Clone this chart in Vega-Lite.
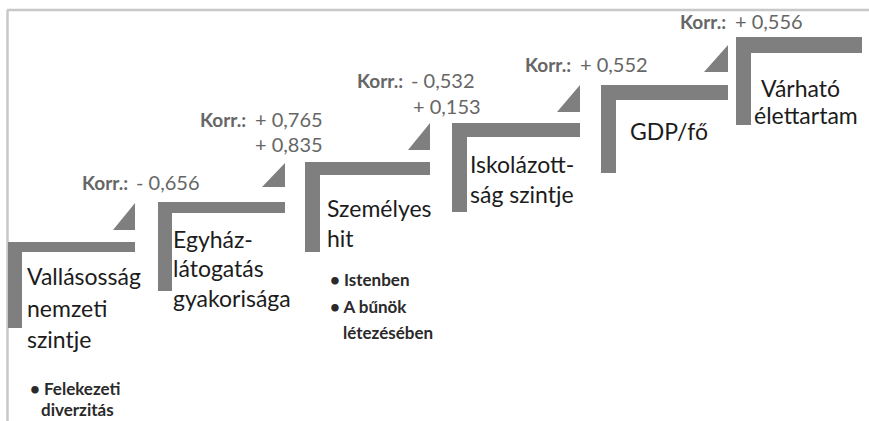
{
  "$schema": "https://vega.github.io/schema/vega-lite/v6.json",
  "width": 869,
  "height": 421,
  "padding": 0,
  "autosize": "none",
  "background": "#ffffff",
  "config": {"view": {"stroke": null}},
  "datasets": {
    "frame": [
      {"x": 7, "x2": 869, "y": 10, "y2": 10},
      {"x": 7.5, "x2": 7.5, "y": 10, "y2": 421}
    ],
    "bars": [
      {"step": 1, "x": 8, "x2": 135, "y": 242, "y2": 252},
      {"step": 1, "x": 8, "x2": 22, "y": 242, "y2": 328},
      {"step": 2, "x": 158, "x2": 285, "y": 202, "y2": 213},
      {"step": 2, "x": 158, "x2": 172, "y": 202, "y2": 291},
      {"step": 3, "x": 305, "x2": 430, "y": 162, "y2": 175},
      {"step": 3, "x": 305, "x2": 320, "y": 162, "y2": 252},
      {"step": 4, "x": 452, "x2": 580, "y": 123, "y2": 137},
      {"step": 4, "x": 452, "x2": 467, "y": 123, "y2": 212},
      {"step": 5, "x": 601, "x2": 728, "y": 85, "y2": 100},
      {"step": 5, "x": 601, "x2": 616, "y": 85, "y2": 173},
      {"step": 6, "x": 736, "x2": 862, "y": 37, "y2": 53},
      {"step": 6, "x": 736, "x2": 751, "y": 37, "y2": 125}
    ],
    "tris": [
      {"tri": 1, "x": 113, "top": 230, "bottom": 230},
      {"tri": 1, "x": 135, "top": 203, "bottom": 230},
      {"tri": 2, "x": 262, "top": 187, "bottom": 187},
      {"tri": 2, "x": 285, "top": 163, "bottom": 187},
      {"tri": 3, "x": 408, "top": 150, "bottom": 150},
      {"tri": 3, "x": 430, "top": 123, "bottom": 150},
      {"tri": 4, "x": 557, "top": 112, "bottom": 112},
      {"tri": 4, "x": 580, "top": 85, "bottom": 112},
      {"tri": 5, "x": 704, "top": 72, "bottom": 72},
      {"tri": 5, "x": 728, "top": 45, "bottom": 72}
    ],
    "texts": [
      {"role": "label", "x": 27, "y": 285, "text": "Vallásosság"},
      {"role": "label", "x": 27, "y": 317, "text": "nemzeti"},
      {"role": "label", "x": 27, "y": 348, "text": "szintje"},
      {"role": "bullet", "x": 30, "y": 395, "text": "• Felekezeti"},
      {"role": "bullet", "x": 41, "y": 416, "text": "diverzitás"},
      {"role": "label", "x": 173, "y": 248, "text": "Egyház-"},
      {"role": "label", "x": 173, "y": 277, "text": "látogatás"},
      {"role": "label", "x": 173, "y": 307, "text": "gyakorisága"},
      {"role": "label", "x": 327, "y": 217, "text": "Személyes"},
      {"role": "label", "x": 327, "y": 247, "text": "hit"},
      {"role": "bullet", "x": 330, "y": 286, "text": "• Istenben"},
      {"role": "bullet", "x": 330, "y": 313, "text": "• A bűnök"},
      {"role": "bullet", "x": 343, "y": 339, "text": "létezésében"},
      {"role": "label", "x": 470, "y": 173, "text": "Iskolázott-"},
      {"role": "label", "x": 470, "y": 203, "text": "ság szintje"},
      {"role": "label", "x": 630, "y": 140, "text": "GDP/fő"},
      {"role": "label", "x": 761, "y": 97, "text": "Várható"},
      {"role": "label", "x": 754, "y": 124, "text": "élettartam"},
      {"role": "korr", "x": 82, "y": 190, "text": "Korr.:"},
      {"role": "value", "x": 136, "y": 190, "text": "- 0,656"},
      {"role": "korr", "x": 200, "y": 127, "text": "Korr.:"},
      {"role": "value", "x": 255, "y": 127, "text": "+ 0,765"},
      {"role": "value", "x": 255, "y": 152, "text": "+ 0,835"},
      {"role": "korr", "x": 357, "y": 88, "text": "Korr.:"},
      {"role": "value", "x": 411, "y": 88, "text": "- 0,532"},
      {"role": "value", "x": 413, "y": 114, "text": "+ 0,153"},
      {"role": "korr", "x": 525, "y": 72, "text": "Korr.:"},
      {"role": "value", "x": 580, "y": 72, "text": "+ 0,552"},
      {"role": "korr", "x": 680, "y": 29, "text": "Korr.:"},
      {"role": "value", "x": 735, "y": 29, "text": "+ 0,556"}
    ]
  },
  "layer": [
    {
      "data": {"name": "frame"},
      "mark": {"type": "rule", "color": "#c8c8c8", "strokeWidth": 2.5},
      "encoding": {
        "x": {"field": "x", "type": "quantitative", "scale": {"domain": [0, 869], "nice": false, "zero": false}, "axis": null},
        "x2": {"field": "x2"},
        "y": {"field": "y", "type": "quantitative", "scale": {"domain": [0, 421], "nice": false, "zero": false, "reverse": true}, "axis": null},
        "y2": {"field": "y2"}
      }
    },
    {
      "data": {"name": "bars"},
      "mark": {"type": "rect", "color": "#7f7f7f"},
      "encoding": {
        "x": {"field": "x", "type": "quantitative", "scale": {"domain": [0, 869], "nice": false, "zero": false}, "axis": null},
        "x2": {"field": "x2"},
        "y": {"field": "y", "type": "quantitative", "scale": {"domain": [0, 421], "nice": false, "zero": false, "reverse": true}, "axis": null},
        "y2": {"field": "y2"}
      }
    },
    {
      "data": {"name": "tris"},
      "mark": {"type": "area", "color": "#7f7f7f", "interpolate": "linear"},
      "encoding": {
        "x": {"field": "x", "type": "quantitative", "scale": {"domain": [0, 869], "nice": false, "zero": false}, "axis": null},
        "y": {"field": "top", "type": "quantitative", "scale": {"domain": [0, 421], "nice": false, "zero": false, "reverse": true}, "axis": null},
        "y2": {"field": "bottom"},
        "detail": {"field": "tri", "type": "nominal"}
      }
    },
    {
      "data": {"name": "texts"},
      "transform": [{"filter": "datum.role === 'label'"}],
      "mark": {"type": "text", "align": "left", "baseline": "alphabetic", "font": "Lato", "fontSize": 23, "color": "#1c1c1c"},
      "encoding": {
        "x": {"field": "x", "type": "quantitative", "scale": {"domain": [0, 869], "nice": false, "zero": false}, "axis": null},
        "y": {"field": "y", "type": "quantitative", "scale": {"domain": [0, 421], "nice": false, "zero": false, "reverse": true}, "axis": null},
        "text": {"field": "text"}
      }
    },
    {
      "data": {"name": "texts"},
      "transform": [{"filter": "datum.role === 'bullet'"}],
      "mark": {"type": "text", "align": "left", "baseline": "alphabetic", "font": "Lato", "fontSize": 17, "fontWeight": "bold", "color": "#2a2a2a"},
      "encoding": {
        "x": {"field": "x", "type": "quantitative", "scale": {"domain": [0, 869], "nice": false, "zero": false}, "axis": null},
        "y": {"field": "y", "type": "quantitative", "scale": {"domain": [0, 421], "nice": false, "zero": false, "reverse": true}, "axis": null},
        "text": {"field": "text"}
      }
    },
    {
      "data": {"name": "texts"},
      "transform": [{"filter": "datum.role === 'korr'"}],
      "mark": {"type": "text", "align": "left", "baseline": "alphabetic", "font": "Lato", "fontSize": 19, "fontWeight": "bold", "color": "#666666"},
      "encoding": {
        "x": {"field": "x", "type": "quantitative", "scale": {"domain": [0, 869], "nice": false, "zero": false}, "axis": null},
        "y": {"field": "y", "type": "quantitative", "scale": {"domain": [0, 421], "nice": false, "zero": false, "reverse": true}, "axis": null},
        "text": {"field": "text"}
      }
    },
    {
      "data": {"name": "texts"},
      "transform": [{"filter": "datum.role === 'value'"}],
      "mark": {"type": "text", "align": "left", "baseline": "alphabetic", "font": "Lato", "fontSize": 20, "color": "#666666"},
      "encoding": {
        "x": {"field": "x", "type": "quantitative", "scale": {"domain": [0, 869], "nice": false, "zero": false}, "axis": null},
        "y": {"field": "y", "type": "quantitative", "scale": {"domain": [0, 421], "nice": false, "zero": false, "reverse": true}, "axis": null},
        "text": {"field": "text"}
      }
    }
  ]
}
